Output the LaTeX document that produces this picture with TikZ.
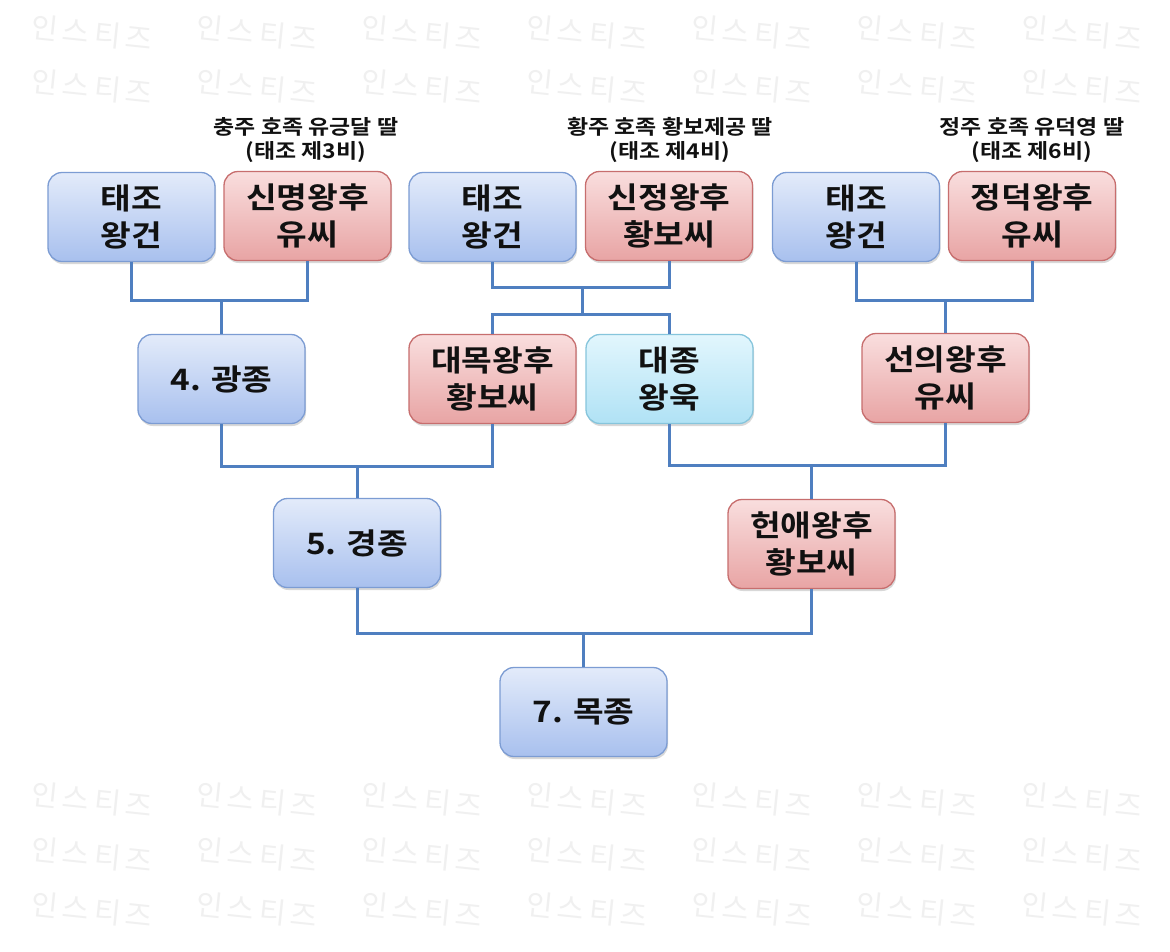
\documentclass[tikz,border=0pt]{standalone}
\usepackage{fontspec}
\setmainfont{Noto Sans CJK KR}[BoldFont={* Bold}]
\newfontfamily\boxfont{Noto Sans CJK KR}[BoldFont={* Bold}, FakeStretch=1.13]
\usetikzlibrary{shadows,calc}
\definecolor{blueT}{HTML}{E3EBFA}
\definecolor{blueB}{HTML}{A8C0EE}
\definecolor{blueD}{HTML}{7C9CD3}
\definecolor{redT}{HTML}{F9DEDE}
\definecolor{redB}{HTML}{E8A4A4}
\definecolor{redD}{HTML}{C76E6E}
\definecolor{cyanT}{HTML}{E2F6FD}
\definecolor{cyanB}{HTML}{B0E2F5}
\definecolor{cyanD}{HTML}{86C5DC}
\definecolor{lineC}{HTML}{4F7FC0}
\definecolor{txtC}{HTML}{111111}
\newcommand{\wmtext}{인\hspace{5pt}스\hspace{5pt}티\hspace{5pt}즈}
\tikzset{
  box/.style={rounded corners=14pt, minimum width=167pt, minimum height=89pt,
    inner sep=0pt, align=center, text=txtC, line width=1.3pt,
    font=\boxfont\fontsize{29.5}{37}\selectfont\bfseries,
    drop shadow={shadow xshift=1pt, shadow yshift=-2.5pt, opacity=0.25, fill=black!60}},
  bluebox/.style={box, draw=blueD, top color=blueT, bottom color=blueB},
  redbox/.style={box, draw=redD, top color=redT, bottom color=redB},
  cyanbox/.style={box, draw=cyanD, top color=cyanT, bottom color=cyanB},
  lbl/.style={align=center, inner sep=0pt, text=txtC, font=\boxfont\fontsize{20.3}{24}\selectfont\bfseries},
  conn/.style={draw=lineC, line width=3pt},
  wm/.style={inner sep=0pt, text=black!6, rotate=-6, font=\fontsize{29}{32}\selectfont}
}
\begin{document}
\begin{tikzpicture}[x=1pt,y=-1pt]
\useasboundingbox (0,0) rectangle (1170,951);
\fill[white] (0,0) rectangle (1170,951);
% watermark
\foreach \wx in {92,257,422,587,752,917,1082}{
  \foreach \wy in {33,87,800,855,910}{
    \node[wm] (wm-\wx-\wy) at (\wx,\wy) {\wmtext};
  }
}
% row 1
\node[bluebox] (t1) at (131.5,217) {태조\\왕건};
\node[redbox]  (s1) at (307.5,216) {신명왕후\\유씨};
\node[bluebox] (t2) at (492.5,217) {태조\\왕건};
\node[redbox]  (s2) at (669,216) {신정왕후\\황보씨};
\node[bluebox] (t3) at (856,217) {태조\\왕건};
\node[redbox]  (s3) at (1032,216) {정덕왕후\\유씨};
% labels
\node[lbl] (l1) at (306,140) {충주 호족 유긍달 딸\\(태조 제3비)};
\node[lbl] (l2) at (670,140) {황주 호족 황보제공 딸\\(태조 제4비)};
\node[lbl] (l3) at (1032,140) {정주 호족 유덕영 딸\\(태조 제6비)};
% row 2
\node[bluebox] (k4) at (221.5,379) {4. 광종};
\node[redbox]  (d1) at (492.5,379) {대목왕후\\황보씨};
\node[cyanbox] (d2) at (669.5,379) {대종\\왕욱};
\node[redbox]  (s4) at (945.5,378) {선의왕후\\유씨};
% row 3
\node[bluebox] (k5) at (357,543) {5. 경종};
\node[redbox]  (h1) at (811.5,544) {헌애왕후\\황보씨};
% row 4
\node[bluebox] (k7) at (583.5,712) {7. 목종};
% junctions
\coordinate (j1) at (221.5,300);
\coordinate (j2) at (582,287);
\coordinate (j2b) at (582,314);
\coordinate (j3) at (945.5,300);
\coordinate (j4) at (357,466);
\coordinate (j5) at (811.5,465);
\coordinate (j6) at (583.5,633);
% connectors
\draw[conn] (t1.south) |- (j1) -| (s1.south);
\draw[conn] (j1) -- (k4.north);
\draw[conn] (t2.south) |- (j2) -| (s2.south);
\draw[conn] (j2) -- (j2b);
\draw[conn] (d1.north) |- (j2b) -| (d2.north);
\draw[conn] (t3.south) |- (j3) -| (s3.south);
\draw[conn] (j3) -- (s4.north);
\draw[conn] (k4.south) |- (j4) -| (d1.south);
\draw[conn] (j4) -- (k5.north);
\draw[conn] (d2.south) |- (j5) -| (s4.south);
\draw[conn] (j5) -- (h1.north);
\draw[conn] (k5.south) |- (j6) -| (h1.south);
\draw[conn] (j6) -- (k7.north);
\end{tikzpicture}
\end{document}
